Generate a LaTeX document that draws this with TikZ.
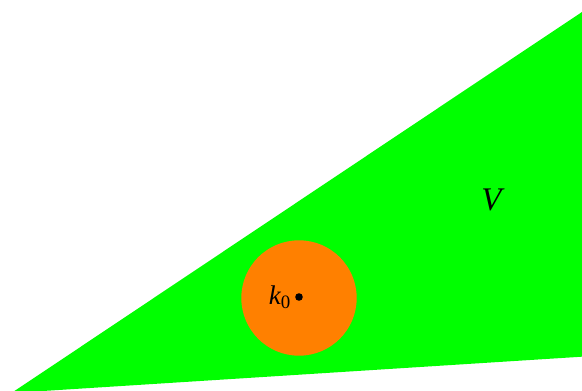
\documentclass[tikz,border=0pt]{standalone}
\usepackage{fontspec}
\setmainfont{Liberation Serif}
\usepackage{xcolor}
\usetikzlibrary{positioning}
\definecolor{conegreen}{HTML}{00FF00}
\definecolor{ballorange}{HTML}{FF8000}
\tikzset{
  lbl/.style={font=\fontsize{27}{31}\selectfont\itshape,inner sep=1pt}
}
\begin{document}
\begin{tikzpicture}[x=1pt,y=1pt]
\useasboundingbox (0,0) rectangle (582,391);
\clip (0,0) rectangle (582,391);
\fill[conegreen] (11.5,-2) -- (582,379) -- (582,34.3) -- cycle;
\fill[ballorange] (299,93) circle (57.7);
\fill[black] (299,94) circle (3.8) coordinate (k0);
\node[lbl,left=7pt of k0] (k0lbl) {k\textsubscript{\upshape 0}};
\node[lbl,font=\fontsize{33}{38}\selectfont\itshape] (vlbl) at (491.5,191.5) {V};
\end{tikzpicture}
\end{document}
